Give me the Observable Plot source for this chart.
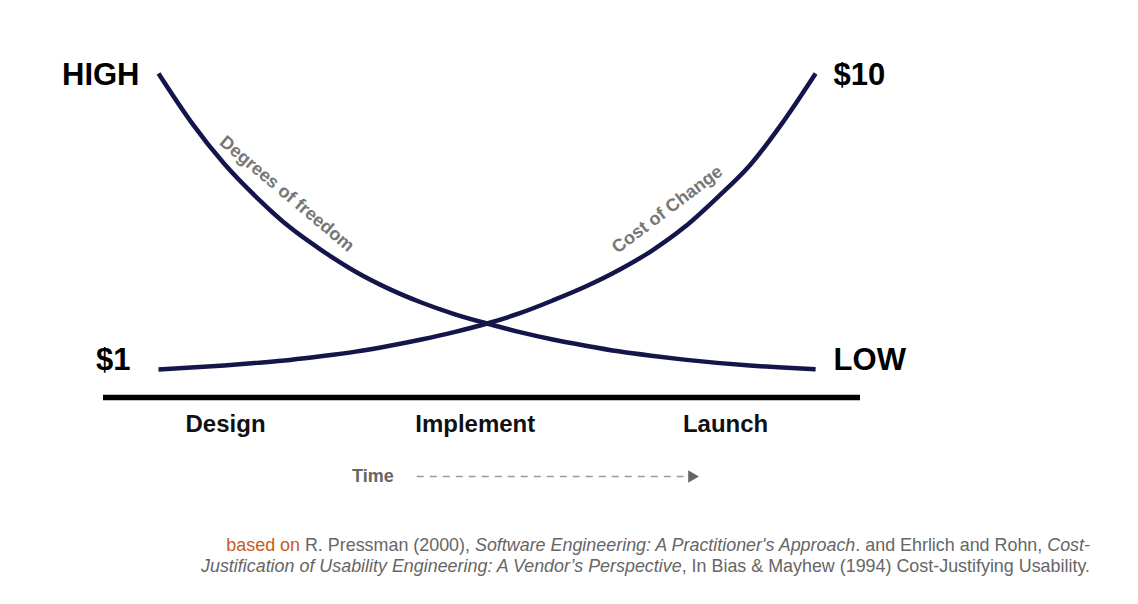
<!DOCTYPE html>
<html>
<head>
<meta charset="utf-8">
<script src="https://cdn.jsdelivr.net/npm/d3@7"></script>
<script src="https://cdn.jsdelivr.net/npm/@observablehq/plot@0.6"></script>
<style>
  html, body { margin: 0; padding: 0; background: #fff; }
  #chart svg { display: block; }
  #caption {
    width: 1138px; box-sizing: border-box; padding-right: 48px;
    text-align: right; font-family: "Liberation Sans", Arial, sans-serif;
    font-size: 17.9px; line-height: 21px; color: #666; margin-top: 15px;
  }
  #caption .o { color: #c85a1e; }
</style>
</head>
<body>
<div id="chart"></div>
<div id="caption"><span class="o">based on</span> R. Pressman (2000), <i>Software Engineering: A Practitioner's Approach</i>. and Ehrlich and Rohn, <i>Cost-<br>Justification of Usability Engineering: A Vendor’s Perspective</i>, In Bias &amp; Mayhew (1994) Cost-Justifying Usability<span class="o">.</span></div>
<script>
// Time (0 = start of design, 100 = launch)
const time = [0, 5, 10, 15, 20, 25, 30, 35, 40, 45, 50, 55, 60, 65, 70, 75, 80, 85, 90, 95, 100];
// Degrees of freedom (relative, 100 = HIGH, 0 = LOW)
const freedom = [100, 83.5, 69.5, 58, 48, 40, 33, 27.3, 22.6, 18.7, 15.5, 12.6, 10.1, 8, 6.1, 4.6, 3.3, 2.2, 1.3, 0.6, 0];
// Cost of change (relative, 0 = $1, 100 = $10)
const cost = [0, 0.6, 1.3, 2.2, 3.2, 4.5, 6, 7.9, 10.1, 12.6, 15.5, 19, 23.3, 28, 33.5, 40, 48, 58, 69, 83.5, 100];
// Phases along the time axis
const phases = ["Design", "Implement", "Launch"];
const phaseT = [10.2, 48.2, 86.3];
// Time arrow extent (time units) and its vertical level
const timeArrow = [39.3, 82.2];
const timeLevel = -36.2;
const baseLevel = -9.5;

const rowsF = time.map((t, i) => ({t, v: freedom[i]}));
const rowsC = time.map((t, i) => ({t, v: cost[i]}));
const last = time.length - 1;
const font = "'Liberation Sans', Arial, Helvetica, sans-serif";
const navy = "#14164a";

const chart = Plot.plot({
  width: 1138,
  height: 520,
  marginLeft: 103,
  marginRight: 278,
  marginTop: 73,
  marginBottom: 123,
  style: {fontFamily: font, background: "#fff"},
  x: {domain: [-8.37, 106.83], axis: null},
  y: {domain: [baseLevel, 100], axis: null},
  marks: [
    Plot.ruleY([baseLevel], {stroke: "#000", strokeWidth: 5.5}),
    Plot.line(rowsF, {x: "t", y: "v", curve: "monotone-x", stroke: navy, strokeWidth: 4.5, strokeLinecap: "butt"}),
    Plot.line(rowsC, {x: "t", y: "v", curve: "monotone-x", stroke: navy, strokeWidth: 4.5, strokeLinecap: "butt"}),
    // curve labels
    Plot.text(["Degrees of freedom"], {x: [time[3]], y: [freedom[3]], text: d => d, dx: 30, dy: -4, rotate: 40,
      fontSize: 18, fontWeight: "bold", fill: "#777", textAnchor: "middle"}),
    Plot.text(["Cost of Change"], {x: [time[16]], y: [cost[16]], text: d => d, dx: -17, dy: -18, rotate: -37,
      fontSize: 18, fontWeight: "bold", fill: "#777", textAnchor: "middle"}),
    // end labels
    Plot.text(["HIGH"], {x: [time[0]], y: [freedom[0]], text: d => d, dx: -19, dy: 2, textAnchor: "end",
      fontSize: 31, fontWeight: "bold", fill: "#000"}),
    Plot.text(["$1"], {x: [time[0]], y: [cost[0]], text: d => d, dx: -28, dy: -9, textAnchor: "end",
      fontSize: 31, fontWeight: "bold", fill: "#000"}),
    Plot.text(["$10"], {x: [time[last]], y: [cost[last]], text: d => d, dx: 18, dy: 2, textAnchor: "start",
      fontSize: 31, fontWeight: "bold", fill: "#000"}),
    Plot.text(["LOW"], {x: [time[last]], y: [freedom[last]], text: d => d, dx: 18, dy: -9, textAnchor: "start",
      fontSize: 31, fontWeight: "bold", fill: "#000"}),
    // phases
    Plot.text(phases, {x: (d, i) => phaseT[i], frameAnchor: "bottom", lineAnchor: "middle", dy: 27, text: d => d,
      fontSize: 24, fontWeight: "bold", fill: "#111", textAnchor: "middle"}),
    // time arrow
    Plot.text(["Time"], {x: [timeArrow[0]], y: [timeLevel], text: d => d, dx: -23, dy: 0, textAnchor: "end",
      fontSize: 18, fontWeight: "bold", fill: "#666"}),
    Plot.link([0], {x1: timeArrow[0], x2: timeArrow[1], y1: timeLevel, y2: timeLevel,
      stroke: "#9a9a9a", strokeWidth: 1.6, strokeDasharray: "7,6"}),
    Plot.dot([0], {x: timeArrow[1], y: timeLevel, symbol: "triangle", rotate: 90, r: 4.6, dx: -6.9,
      fill: "#666", stroke: "none"})
  ]
});
document.getElementById("chart").appendChild(chart);
</script>
</body>
</html>
